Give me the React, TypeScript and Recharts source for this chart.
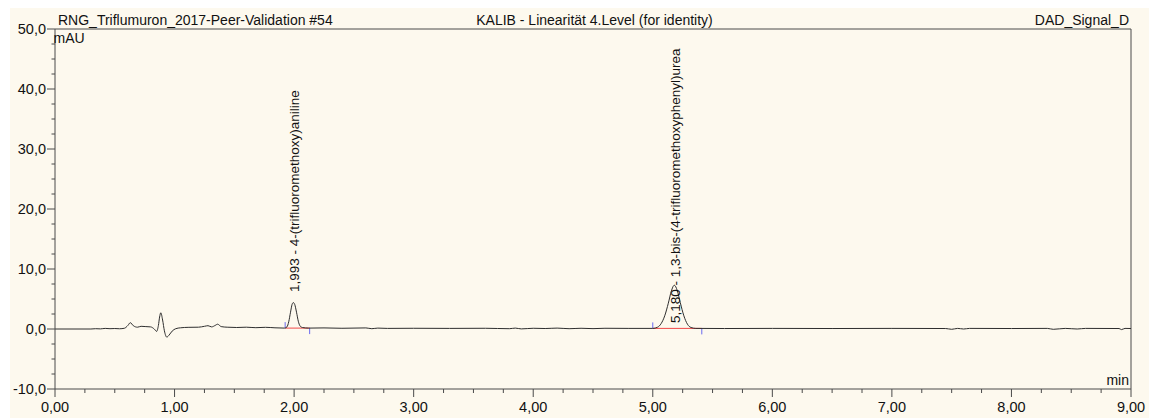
import React from "react";
import { LineChart, Line, XAxis, YAxis, ReferenceLine, ReferenceDot } from "recharts";

// DAD trace, retention time (min) against absorbance (mAU)
const TIME = [
  0.0, 0.3, 0.34, 0.38, 0.42, 0.46, 0.5, 0.54, 0.58, 0.61, 0.63, 0.655, 0.69, 0.72, 0.76, 0.8,
  0.83, 0.85, 0.865, 0.875, 0.885, 0.9, 0.915, 0.935, 0.955, 0.98, 1.01, 1.05, 1.12, 1.2, 1.25,
  1.28, 1.31, 1.34, 1.36, 1.39, 1.44, 1.52, 1.6, 1.68, 1.76, 1.84, 1.92, 1.94, 1.955, 1.97,
  1.983, 1.993, 2.005, 2.02, 2.035, 2.05, 2.07, 2.12, 2.25, 2.4, 2.6, 2.65, 2.7, 2.78, 3.0, 3.3,
  3.6, 3.8, 3.85, 3.9, 4.0, 4.1, 4.2, 4.3, 4.4, 4.5, 4.6, 4.8, 5.0, 5.04, 5.07, 5.1, 5.13,
  5.155, 5.18, 5.205, 5.23, 5.26, 5.29, 5.32, 5.36, 5.6, 6.0, 6.5, 7.0, 7.45, 7.5, 7.55, 7.6,
  7.65, 8.0, 8.3, 8.35, 8.45, 8.55, 8.62, 8.9, 8.92, 8.95, 9.0,
];
const SIGNAL = [
  0, 0, 0.05, 0.02, 0.1, 0.05, 0.08, 0.04, 0.12, 0.6, 1.05, 0.55, 0.3, 0.45, 0.4, 0.35,
  0.0, -0.4, 0.6, 2.0, 2.7, 1.5, -0.3, -1.35, -1.0, -0.35, 0.05, 0.2, 0.28, 0.3, 0.45,
  0.55, 0.35, 0.6, 0.8, 0.4, 0.3, 0.25, 0.3, 0.22, 0.28, 0.2, 0.15, 0.35, 1.2, 2.8,
  4.1, 4.4, 4.1, 2.8, 1.3, 0.5, 0.25, 0.15, 0.18, 0.12, 0.18, 0.05, 0.15, 0.1, 0.12, 0.1,
  0.12, 0.05, 0.15, 0.02, 0.12, 0.08, 0.15, 0.05, 0.12, 0.06, 0.12, 0.1, 0.1, 0.3, 0.9, 2.2, 4.3,
  6.3, 7.3, 6.4, 4.4, 2.2, 0.8, 0.25, 0.1, 0.08, 0.1, 0.08, 0.1, 0.08, -0.05, 0.1, 0.0,
  0.1, 0.08, 0.1, -0.05, 0.1, 0.0, 0.1, 0.08, -0.1, 0.1, 0.08,
];

// integrated peaks: retention time, label, integration start/end and baseline level
const PEAK_RT = [1.993, 5.18];
const PEAK_LABELS = [
  "1,993 - 4-(trifluoromethoxy)aniline",
  "5,180 - 1,3-bis-(4-trifluoromethoxyphenyl)urea",
];
const PEAK_START = [1.925, 5.0];
const PEAK_END = [2.13, 5.41];
const PEAK_BASE = [0.15, 0.1];

const X_TICKS = Array.from({ length: 37 }, (_, i) => i * 0.25);
const Y_TICKS = Array.from({ length: 25 }, (_, i) => -10 + i * 2.5);

const data = TIME.map((t, i) => ({ t, mAU: SIGNAL[i] }));

const FONT = "'Liberation Sans', Arial, sans-serif";
const AXIS = "#4a4a4a";
const BG = "#fdf9ee";
const W = 1139;
const H = 410;
const M = { top: 21, right: 18, left: 0, bottom: 0 };
const Y_AXIS_W = 45;
const X_AXIS_H = 29;
// where the axis lines sit inside the svg
const PLOT_LEFT = M.left + Y_AXIS_W;
const PLOT_BOTTOM = H - M.bottom - X_AXIS_H;

// label offsets in px from the retention time at 0 mAU
const LABEL_DY = [-37, -6];

function TimeTick({ x, payload }: any) {
  const v = payload.value as number;
  const major = Math.abs(v - Math.round(v)) < 1e-6;
  const y = PLOT_BOTTOM;
  return (
    <g>
      <line x1={x} y1={y} x2={x} y2={y + (major ? 8 : 4)} stroke={AXIS} />
      {major && (
        <text x={x} y={y + 22.5} textAnchor="middle" fontSize={14.5} fontFamily={FONT} fill="#111">
          {v.toFixed(2).replace(".", ",")}
        </text>
      )}
    </g>
  );
}

function AbsTick({ y, payload }: any) {
  const v = payload.value as number;
  const major = Math.abs(v / 10 - Math.round(v / 10)) < 1e-6;
  const x = PLOT_LEFT;
  return (
    <g>
      <line x1={x - (major ? 8 : 3.5)} y1={y} x2={x} y2={y} stroke={AXIS} />
      {major && (
        <text x={x - 9} y={y + 5} textAnchor="end" fontSize={14.5} fontFamily={FONT} fill="#111">
          {v.toFixed(1).replace(".", ",")}
        </text>
      )}
    </g>
  );
}

function PeakLabel({ cx, cy, text, dy }: any) {
  const px = cx + 6;
  const py = cy + dy;
  return (
    <text
      x={px}
      y={py}
      transform={`rotate(-90 ${px} ${py})`}
      fontSize={13.5}
      fontFamily={FONT}
      fill="#111"
    >
      {text}
    </text>
  );
}

export default function App() {
  return (
    <div style={{ position: "fixed", left: 10, top: 8, width: W, height: H, background: BG }}>
      <LineChart width={W} height={H} data={data} margin={M}>
        <XAxis
          dataKey="t"
          type="number"
          domain={[0, 9]}
          ticks={X_TICKS}
          interval={0}
          height={X_AXIS_H}
          tickLine={false}
          axisLine={{ stroke: AXIS }}
          tick={<TimeTick />}
        />
        <YAxis
          type="number"
          domain={[-10, 50]}
          ticks={Y_TICKS}
          interval={0}
          width={Y_AXIS_W}
          tickLine={false}
          axisLine={{ stroke: AXIS }}
          tick={<AbsTick />}
        />
        <ReferenceLine y={50} stroke={AXIS} />
        <ReferenceLine x={9} stroke={AXIS} />
        {PEAK_START.map((s, i) => (
          <ReferenceLine
            key={`base-${i}`}
            segment={[
              { x: s, y: PEAK_BASE[i] },
              { x: PEAK_END[i], y: PEAK_BASE[i] },
            ]}
            stroke="#f04848"
          />
        ))}
        {PEAK_START.map((s, i) => (
          <ReferenceLine
            key={`start-${i}`}
            segment={[
              { x: s, y: PEAK_BASE[i] },
              { x: s, y: PEAK_BASE[i] + 1 },
            ]}
            stroke="#6a6af0"
          />
        ))}
        {PEAK_END.map((e, i) => (
          <ReferenceLine
            key={`end-${i}`}
            segment={[
              { x: e, y: PEAK_BASE[i] },
              { x: e, y: PEAK_BASE[i] - 1 },
            ]}
            stroke="#6a6af0"
          />
        ))}
        <Line
          type="monotone"
          dataKey="mAU"
          stroke="#2e2e2e"
          strokeWidth={1}
          dot={false}
          activeDot={false}
          isAnimationActive={false}
        />
        {PEAK_RT.map((rt, i) => (
          <ReferenceDot
            key={`lbl-${i}`}
            x={rt}
            y={0}
            r={0}
            shape={(p: any) => <PeakLabel {...p} text={PEAK_LABELS[i]} dy={LABEL_DY[i]} />}
          />
        ))}
      </LineChart>
      <svg width={W} height={H} style={{ position: "absolute", left: 0, top: 0, pointerEvents: "none" }}>
        <g fontFamily={FONT} fontSize={14} fill="#111">
          <text x={48} y={17}>RNG_Triflumuron_2017-Peer-Validation #54</text>
          <text x={584.5} y={17} textAnchor="middle">KALIB - Linearität 4.Level (for identity)</text>
          <text x={1119} y={17} textAnchor="end">DAD_Signal_D</text>
          <text x={43.5} y={34.5}>mAU</text>
          <text x={1119} y={377} textAnchor="end">min</text>
        </g>
      </svg>
    </div>
  );
}
